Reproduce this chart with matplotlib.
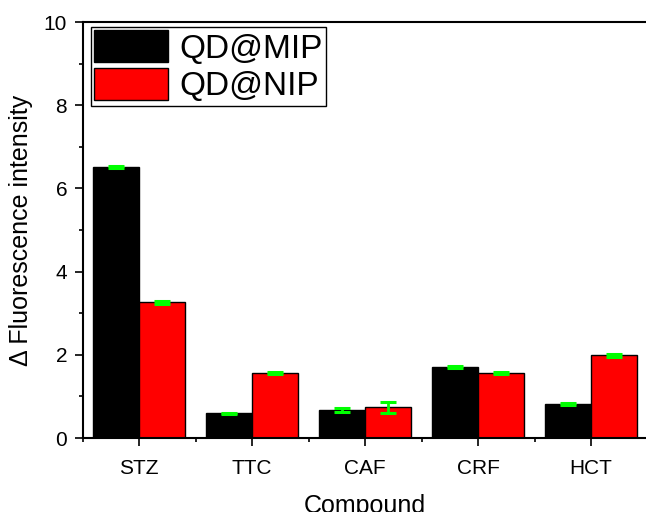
import matplotlib
matplotlib.use("Agg")
import matplotlib.pyplot as plt
import numpy as np
from matplotlib.ticker import MultipleLocator, FixedLocator

plt.rcParams['font.family'] = ['Liberation Sans', 'DejaVu Sans']

categories = ["STZ", "TTC", "CAF", "CRF", "HCT"]
mip_values = [6.52, 0.59, 0.67, 1.71, 0.82]
nip_values = [3.26, 1.56, 0.74, 1.56, 1.99]
mip_errors = [0.02, 0.02, 0.04, 0.02, 0.02]
nip_errors = [0.03, 0.03, 0.13, 0.02, 0.04]
series_names = ["QD@MIP", "QD@NIP"]

fig = plt.figure(figsize=(6.46, 5.12), dpi=100)
ax = fig.add_axes([82.5/646, 74/512, 565/646, 416/512])

x = np.arange(1, len(categories) + 1)
w = 0.405
err_kw = dict(ecolor="#00ff00", elinewidth=2, capsize=5.5, capthick=2.2)
ax.bar(x - w/2, mip_values, w, color="black", edgecolor="black", linewidth=1,
       yerr=mip_errors, error_kw=err_kw, label=series_names[0], zorder=2)
ax.bar(x + w/2, nip_values, w, color="#ff0000", edgecolor="black", linewidth=1,
       yerr=nip_errors, error_kw=err_kw, label=series_names[1], zorder=2)

ax.set_xlim(0.5, 5.5)
ax.set_ylim(0, 10)
ax.set_xticks(x)
ax.set_xticklabels(categories)
ax.xaxis.set_minor_locator(FixedLocator(np.arange(0.5, 6, 1)))
ax.yaxis.set_major_locator(MultipleLocator(2))
ax.yaxis.set_minor_locator(MultipleLocator(1))
ax.tick_params(which="major", direction="out", length=6, width=1.2, labelsize=15)
ax.tick_params(which="minor", direction="out", length=3, width=1.2)
ax.tick_params(axis="x", which="major", pad=9)
ax.tick_params(axis="y", which="major", pad=5)
for s in ax.spines.values():
    s.set_linewidth(1.5)

ax.set_xlabel("Compound", fontsize=18, labelpad=12)
ax.set_ylabel("\u0394 Fluorescence intensity", fontsize=18, labelpad=8)

leg = ax.legend(loc="upper left", bbox_to_anchor=(0.015, 0.988), fontsize=24,
                handlelength=2.2, handleheight=1.1, labelspacing=0.1,
                borderpad=0.1, handletextpad=0.35, borderaxespad=0,
                fancybox=False, framealpha=1, edgecolor="black")
leg.get_frame().set_linewidth(1)

fig.savefig("out.png", dpi=100)
